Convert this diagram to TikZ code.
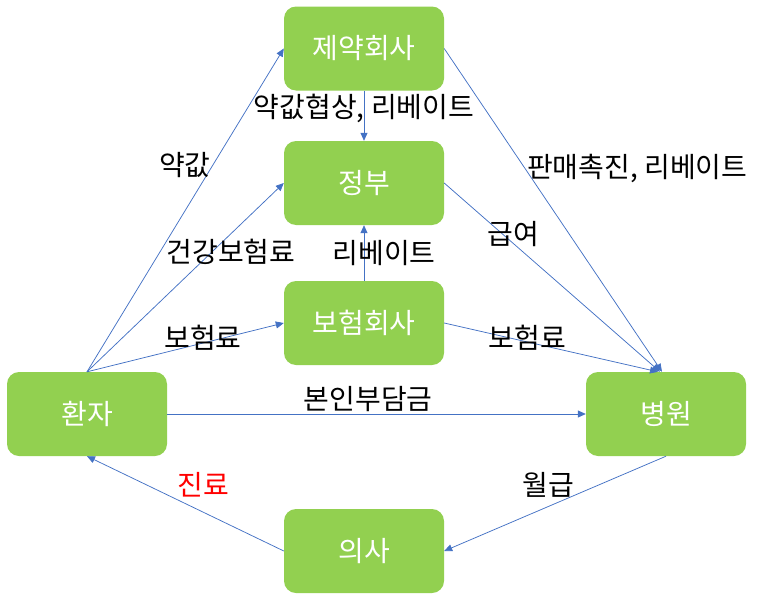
\documentclass[tikz,border=0pt]{standalone}
\usepackage{fontspec}
\setmainfont{Noto Sans CJK KR}
\usetikzlibrary{arrows.meta}
\definecolor{boxgreen}{HTML}{92D050}
\definecolor{lineblue}{HTML}{4472C4}

\begin{document}
\begin{tikzpicture}[x=1pt,y=-1pt,->,>={Triangle[length=8pt,width=7pt]},main node/.style={rectangle,rounded corners=12pt,fill=boxgreen,minimum width=160pt,minimum height=84pt,text=white,font=\fontsize{28}{32}\selectfont},tag/.style={font=\fontsize{28}{32}\selectfont,inner sep=2pt}]

			\useasboundingbox (0,0) rectangle (760,605);

			\node[main node] (1) at (364,48.5) {제약회사};
			\node[main node] (2) at (364,183) {정부};
			\node[main node] (3) at (364,323) {보험회사};
			\node[main node] (4) at (87,414) {환자};
			\node[main node] (5) at (666,414) {병원};
			\node[main node] (6) at (364,551) {의사};

			\path[every edge/.style={draw=lineblue,line width=0.75pt},every node/.style={tag}]
			(4.north) edge node[pos=0.64,left] {약값} (1.west)
			edge node[pos=0.635,xshift=19pt] {건강보험료} (2.west)
			edge node[pos=0.59,yshift=5pt] {보험료} (3.west)
			(1.south) edge node[pos=0.35] {약값협상, 리베이트} (2.north)
			(3.north) edge node[pos=0.5,xshift=20pt] {리베이트} (2.south)
			(1.east) edge node[pos=0.37,right] {판매촉진, 리베이트} ([xshift=-4pt]5.north)
			(2.east) edge node[pos=0.32,yshift=9pt] {급여} ([xshift=-6pt]5.north)
			(3.east) edge node[pos=0.39,yshift=4pt] {보험료} ([xshift=-8pt]5.north)
			(4.east) edge node[pos=0.48,above] {본인부담금} (5.west)
			(5.south) edge node[pos=0.53,above=7pt] {월급} (6.east)
			(6.west) edge node[pos=0.41,above=13pt,text=red] {진료} (4.south)
			;
\end{tikzpicture}
\end{document}
